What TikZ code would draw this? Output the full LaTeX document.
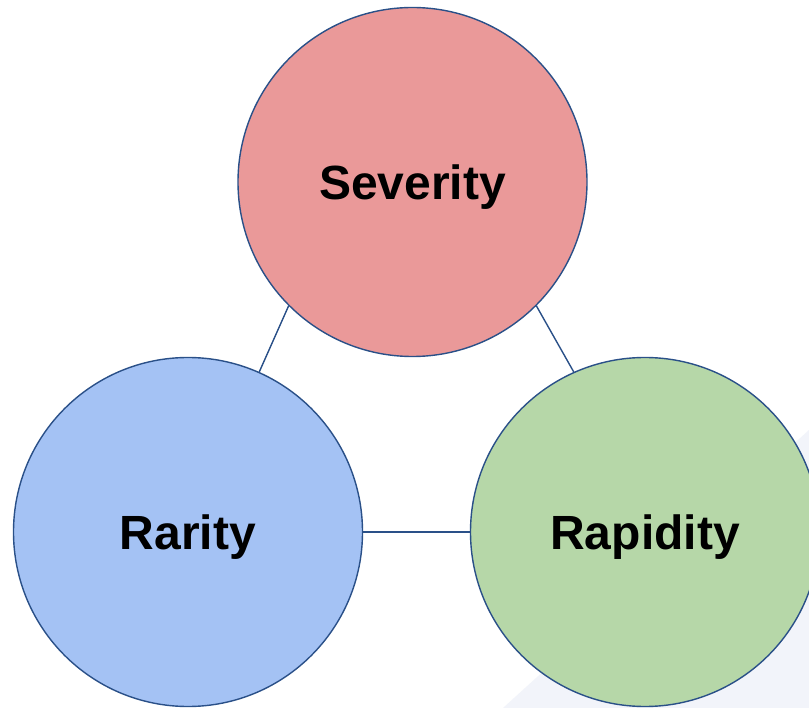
\documentclass[tikz,border=0pt]{standalone}
\usepackage{fontspec}
\setmainfont{Liberation Sans}
\definecolor{sevfill}{HTML}{EA9999}
\definecolor{rarfill}{HTML}{A4C2F4}
\definecolor{rapfill}{HTML}{B6D7A8}
\definecolor{edgeblue}{HTML}{2A5088}
\definecolor{faint}{HTML}{F2F4FA}
\begin{document}
\begin{tikzpicture}[x=1pt,y=-1pt,
  bubble/.style={circle, draw=edgeblue, line width=1.4pt, minimum size=349pt, inner sep=0pt,
    font=\fontsize{48}{54}\selectfont\bfseries, text=black, text depth=0pt},
  link/.style={draw=edgeblue, line width=1.4pt}]
\useasboundingbox (0,0) rectangle (809,708);
\clip (0,0) rectangle (809,708);
\fill[white] (0,0) rectangle (809,708);
\fill[faint] (503,708) -- (809,430) -- (809,708) -- cycle;
\node[bubble, fill=sevfill] (sev) at (412.5,182) {Severity};
\node[bubble, fill=rarfill] (rar) at (188,532) {Rarity};
\node[bubble, fill=rapfill] (rap) at (645,532) {Rapidity};
\draw[link] (sev.-135) -- (rar.66);
\draw[link] (sev.-45) -- (rap.114);
\draw[link] (rar.east) -- (rap.west);
\end{tikzpicture}
\end{document}
